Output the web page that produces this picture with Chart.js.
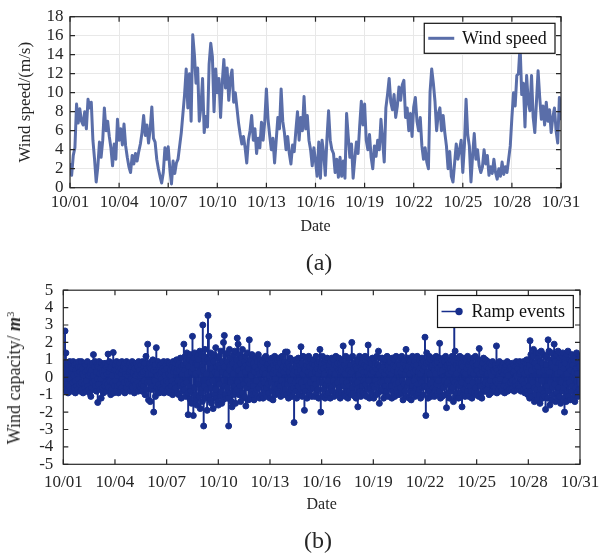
<!DOCTYPE html>
<html><head><meta charset="utf-8">
<script src="https://cdn.jsdelivr.net/npm/chart.js@4.4.0/dist/chart.umd.min.js"></script>
<style>
html,body{margin:0;padding:0;background:#fff;width:608px;height:555px;overflow:hidden;}
#wrap{position:relative;width:608px;height:555px;font-family:'Liberation Serif','Times New Roman',serif;color:#262626;}
canvas{position:absolute;left:0;}
#c1{top:0;}
#c2{top:270px;}
.lbl{position:absolute;white-space:nowrap;transform:translate(-50%,-50%);line-height:1;}
.ylab{transform:translate(-50%,-50%) rotate(-90deg);}
</style></head>
<body><div id="wrap">
<canvas id="c1" width="608" height="240"></canvas>
<canvas id="c2" width="608" height="250"></canvas>
<div class="lbl" style="left:319px;top:262px;font-size:24px">(a)</div>
<div class="lbl" style="left:318px;top:540px;font-size:24px">(b)</div>
<div class="lbl ylab" style="left:14px;top:378px;font-size:18px">Wind capacity/ <b><i>m</i></b><span style="position:relative;top:-0.55em;font-size:0.6em">3</span></div>
</div>
<script>
// ---------- data ----------
const dateTicks = ['10/01','10/04','10/07','10/10','10/13','10/16','10/19','10/22','10/25','10/28','10/31'];
const tickDays  = [0,3,6,9,12,15,18,21,24,27,30];
const windLabel = 'Wind speed';
const rampLabel = 'Ramp events';

// wind speed (m/s), sampled every 0.1 day from 10/01 to 10/31
const windSpeed = [
 2.6,1.3,3.4,4.2,8.8,6.8,8.3,7.0,6.6,8.0,
 6.2,9.3,8.4,9.0,5.0,3.0,0.6,2.2,4.8,3.2,
 5.0,8.4,6.0,7.0,5.4,4.2,2.3,4.6,3.0,7.2,
 5.0,6.2,4.5,6.7,4.4,3.2,2.2,1.6,3.4,2.5,
 3.6,2.8,3.8,4.6,5.8,7.6,5.5,6.6,4.7,6.2,
 8.5,5.2,4.8,3.0,2.0,1.2,0.5,1.6,4.2,3.0,
 4.3,2.0,0.4,2.8,1.5,2.6,3.0,4.4,5.8,7.8,
 9.8,12.5,8.4,12.0,7.0,16.1,
 14.0,11.0,12.6,7.0,8.5,11.5,5.8,7.5,6.4,13.0,
 15.2,13.8,8.0,12.5,10.0,11.5,7.4,11.0,13.5,10.5,
 12.6,9.2,11.5,12.4,9.0,10.0,8.4,6.8,5.6,4.6,
 5.4,4.2,2.6,5.0,6.0,7.6,5.0,6.2,3.6,5.2,
 4.2,6.9,5.0,7.0,10.4,7.2,5.5,4.0,5.2,2.6,
 5.0,7.4,6.2,10.4,7.0,5.8,4.0,5.4,3.6,2.5,
 4.5,3.8,6.0,8.0,5.0,7.4,6.0,9.6,6.2,7.6,
 5.0,4.0,2.3,4.2,2.8,
 1.2,4.8,1.0,5.0,3.6,1.3,5.2,8.1,5.0,4.0,
 3.6,1.6,3.0,1.1,3.2,1.2,2.8,1.0,7.8,5.4,
 3.2,4.6,1.0,3.0,4.8,3.6,6.5,9.1,6.6,8.8,
 5.0,4.0,5.6,3.2,2.0,4.4,3.3,5.0,4.0,7.2,
 5.0,2.7,8.4,9.8,11.5,9.0,8.2,9.8,7.4,8.6,
 10.6,9.2,10.8,11.3,7.4,8.4,6.0,7.8,5.4,8.5,
 9.5,7.0,6.0,7.4,4.4,3.0,4.2,2.7,2.0,10.1,
 12.5,11.0,9.1,6.0,7.8,
 8.4,6.0,7.6,5.8,4.4,2.0,3.8,1.2,0.6,2.6,
 4.6,3.0,4.0,5.0,1.6,4.5,9.3,5.6,4.4,0.6,
 3.4,5.7,3.0,4.0,2.3,1.6,2.2,4.0,2.5,3.4,
 1.3,2.2,1.5,3.0,1.6,0.9,2.0,1.2,2.7,1.4,
 2.2,1.6,3.0,4.4,7.4,10.0,8.6,11.8,12.0,15.0,
 9.8,11.0,6.4,11.8,9.0,8.1,11.8,7.4,5.8,9.0,
 12.3,9.5,7.2,8.6,6.6,9.0,7.0,8.2,5.8,7.4,
 8.4,6.0,4.7,9.5,7.1
];

// ramp events (wind capacity change), sampled every 0.025 day (one row = half a day)
const rampEvents = [
 0.3,-0.6,0.8,-0.2,2.66,0.5,1.4,-0.8,0.1,-0.4,0.7,-0.9,0.4,0.2,-0.5,0.9,-0.1,-0.7,0.6,0.3,
 -0.8,0.5,-0.3,0.9,0.1,-0.6,0.7,-0.2,-0.9,0.4,0.8,-0.5,0.2,-0.7,0.6,-0.1,0.9,-0.4,0.3,-0.8,
 0.6,-0.3,0.9,-0.7,0.2,0.5,-0.9,0.1,-0.4,0.8,-0.6,0.3,0.7,-0.2,-0.8,0.4,0.9,-0.5,0.1,-0.7,
 0.5,-0.9,0.2,0.7,-1.1,0.4,-0.6,0.8,-0.3,0.1,1.3,-0.7,0.6,-0.2,0.9,-0.5,0.3,-0.8,0.7,-0.1,
 -1.45,0.6,-0.4,0.9,0.2,-0.7,0.5,-0.1,-1.2,0.8,0.3,-0.6,0.7,-0.9,0.1,0.4,-0.5,0.8,-0.3,0.6,
 -0.8,0.2,0.7,-0.4,1.33,-0.6,0.3,0.9,-0.2,0.5,-1.0,0.6,-0.7,0.1,0.8,-0.3,1.42,-0.9,0.4,-0.5,
 0.7,-0.2,0.4,-0.8,0.9,0.1,-0.5,0.6,-0.9,0.3,0.8,-0.4,-0.7,0.5,0.2,-0.6,0.9,-0.1,0.4,-0.8,
 0.6,-0.3,0.8,-0.9,0.2,0.5,-0.6,0.9,-0.2,0.1,-0.7,0.7,-0.4,0.3,0.8,-0.8,0.4,-0.1,0.6,-0.5,
 0.9,-0.6,0.3,-0.2,0.7,-0.9,0.5,0.1,-0.4,0.8,-0.7,0.2,0.6,-0.3,-0.8,0.9,0.4,-0.5,0.1,-0.6,
 0.7,-0.4,0.2,-0.8,0.9,0.3,-0.5,0.6,-0.2,0.8,-1.0,0.4,1.2,-0.7,0.5,-0.3,1.9,0.2,-1.3,0.6,
 0.8,-0.3,-1.4,0.5,0.2,-0.7,0.9,-0.5,1.0,0.4,-2.0,0.6,-0.2,0.7,-1.1,0.3,1.7,-0.6,0.1,-0.8,
 0.9,-0.4,0.6,-0.9,0.2,0.7,-0.6,0.3,-0.1,0.8,-0.7,0.5,-0.3,0.9,-0.9,0.4,0.1,-0.5,0.7,-0.2,
 0.5,-0.8,0.9,-0.3,0.2,-0.6,0.8,-0.9,0.4,0.1,-0.5,0.7,-0.2,0.6,-1.0,0.9,0.3,-0.7,0.5,-0.4,
 0.8,-0.6,0.3,1.0,-0.9,0.5,-0.2,0.7,-1.0,0.4,0.9,-0.5,1.1,-0.3,-1.2,0.6,0.2,-0.8,0.7,-0.4,
 1.9,-0.7,0.4,1.2,-1.1,0.8,-0.3,1.4,0.2,-0.9,-2.15,0.6,1.0,-0.5,-1.25,1.3,-0.8,0.3,-1.5,0.9,
 2.35,0.5,-2.2,1.1,-0.6,1.4,-1.0,0.2,0.8,-1.3,-1.6,0.7,1.2,-0.4,1.0,-1.1,0.3,1.5,-1.8,-0.7,
 1.3,-0.9,0.6,-1.4,3.0,0.4,-2.8,1.2,-0.5,1.6,-1.2,0.9,0.2,-0.7,-1.9,1.0,3.55,-1.1,2.35,-0.3,
 0.8,-1.3,1.4,-0.6,-1.5,0.5,1.1,-0.2,-1.8,0.9,1.3,-1.0,0.3,-0.7,1.7,-1.2,0.6,0.2,-1.4,1.1,
 -1.6,0.7,1.2,-0.4,0.5,-1.1,1.5,-0.8,-1.5,0.3,0.9,-1.3,2.0,0.6,2.4,-0.5,-1.0,1.3,0.2,-1.2,
 0.9,-0.6,1.4,-1.2,-2.8,0.4,1.6,-0.9,0.7,-0.3,1.1,-1.4,-1.7,0.8,0.2,-1.0,1.3,-0.5,1.5,-0.8,
 -1.5,0.6,1.0,-0.7,2.25,-0.3,1.9,0.4,-1.0,1.3,-0.5,0.8,-1.4,0.2,1.1,-0.9,1.6,-1.2,0.5,-0.4,
 0.9,-1.1,0.3,1.2,-1.65,0.7,-0.6,1.4,-0.2,0.5,-1.3,0.8,2.15,-0.4,-1.2,1.0,0.1,-0.8,1.3,-1.0,
 1.2,-0.5,0.8,-1.3,0.3,0.6,-0.9,1.1,-0.2,-0.7,0.9,-1.1,0.4,1.3,-0.6,0.2,-1.2,0.7,1.0,-0.4,
 0.6,-1.0,0.3,0.9,-1.2,0.5,-0.3,1.1,-0.8,0.2,1.2,-0.6,-1.1,0.7,1.9,-0.4,0.8,-0.9,0.1,1.0,
 -1.2,0.5,0.9,-0.3,1.1,-0.8,0.2,-1.3,0.7,0.4,-0.6,1.2,-0.1,-1.0,0.8,0.3,-0.7,1.0,-0.4,0.6,
 -0.9,1.1,0.2,-0.5,0.8,-1.1,0.4,-0.2,1.2,-0.8,0.6,-1.0,0.3,0.9,-0.4,-0.7,1.45,0.5,-1.0,0.7,
 1.45,-0.4,0.8,-1.2,0.3,0.6,-0.9,1.1,-0.2,-0.7,1.0,-1.1,0.5,0.2,-0.6,0.9,-2.6,0.4,-0.3,1.0,
 -0.8,0.6,-1.2,0.3,0.9,-0.5,1.1,-0.2,-1.0,0.7,0.4,-0.7,1.75,-0.3,0.8,-1.1,0.2,1.2,-0.6,0.5,
 -1.9,0.4,-0.8,1.1,-0.2,0.7,-1.2,0.9,0.3,-0.5,1.2,-1.0,0.6,-0.3,1.0,-0.7,0.2,-1.1,0.8,0.5,
 -0.6,1.0,-0.1,0.7,-1.1,0.3,-0.4,1.2,-0.9,0.5,0.8,-0.7,0.2,-1.2,0.9,-0.3,1.6,0.4,-2.0,0.6,
 0.8,-0.3,1.2,-1.1,0.5,-0.7,0.2,0.9,-1.2,1.0,-0.4,0.6,-1.0,1.1,-0.2,0.4,-0.9,0.7,-0.5,0.3,
 -1.2,0.9,-0.6,0.3,1.1,-0.8,0.5,-0.2,1.0,-1.1,0.7,0.2,-0.4,1.2,-0.9,0.6,-0.3,0.8,-1.0,0.4,
 1.1,-0.6,0.3,-1.2,0.8,0.4,-0.9,1.0,-0.2,0.6,1.8,-0.5,-1.0,0.7,0.2,-1.1,1.2,-0.3,0.5,-0.8,
 0.9,-1.2,0.4,-0.5,1.1,-0.8,0.2,0.7,-1.0,0.3,2.0,-0.6,1.2,-0.9,0.5,-0.2,0.8,-1.1,0.6,-0.4,
 -1.2,0.5,1.0,-0.3,-1.7,0.9,-0.6,0.2,1.2,-0.8,0.6,-1.1,0.4,0.8,-0.5,1.1,-0.9,0.3,-0.2,0.7,
 -1.0,1.2,-0.4,0.6,-1.1,0.3,0.9,-0.7,1.85,-0.2,0.5,-1.2,1.0,-0.6,0.2,0.8,-0.9,0.4,1.1,-0.5,
 0.3,-1.2,1.0,-0.6,0.8,-0.2,0.5,-1.0,1.2,-0.4,0.7,-0.9,1.5,0.2,-1.5,0.6,-0.3,1.1,-0.8,0.4,
 -0.7,1.1,-0.3,0.6,-1.2,0.9,0.2,-0.5,1.0,-1.0,0.4,-0.8,1.2,-0.2,0.7,-1.1,0.3,0.9,-0.6,0.5,
 0.9,-0.5,0.2,-1.2,1.1,-0.8,0.4,0.7,-0.2,1.0,-1.1,0.6,-0.4,1.2,-0.7,0.3,-0.9,0.8,-0.3,0.5,
 -1.0,0.7,1.1,-0.6,0.3,-0.9,1.2,-0.2,0.5,-1.3,0.8,-0.4,1.0,-0.8,0.2,0.6,1.6,-1.1,0.4,-0.5,
 1.1,-0.3,0.6,-1.2,0.2,0.9,-0.8,1.0,-1.3,0.5,-0.5,1.2,-0.9,0.3,0.7,-0.2,0.9,-1.1,0.4,-0.6,
 0.7,-1.0,1.2,-0.4,0.3,-0.9,1.0,-0.7,0.5,0.2,-1.2,0.8,-0.3,1.1,-0.6,0.4,-1.0,0.9,-0.5,0.6,
 2.3,-0.5,-2.2,0.8,1.4,-0.6,0.3,-1.2,0.9,-0.8,1.2,0.2,-0.4,1.0,-1.1,0.6,-0.3,0.7,-1.0,1.1,
 -0.6,0.4,-1.1,0.8,0.2,-0.7,1.2,-0.4,0.9,-1.0,0.5,-0.2,1.1,-0.8,1.95,0.3,-1.2,0.7,-0.5,1.0,
 -1.1,0.4,-0.6,1.1,-0.2,0.9,-1.0,0.6,1.2,-0.4,-1.75,0.7,-0.3,1.0,-0.9,0.2,0.8,-1.2,0.5,-0.5,
 1.0,-0.8,0.3,1.2,-0.6,0.5,-1.4,0.9,3.3,-0.3,1.5,-1.1,0.7,0.2,-0.9,1.1,-0.4,0.6,-1.2,0.8,
 -0.5,1.2,-0.9,0.4,0.8,-0.3,-1.7,0.6,1.1,-1.0,0.3,-0.7,0.9,-1.1,0.2,1.0,-0.4,0.5,-0.8,1.2,
 -0.2,0.7,-1.1,0.9,-0.5,0.3,1.0,-0.8,0.5,-1.2,0.8,-0.3,1.1,0.2,-0.9,0.6,-0.6,1.2,-1.0,0.4,
 0.7,-0.9,0.4,-0.3,1.0,-1.1,1.65,0.2,-0.5,0.9,-1.0,0.6,-1.2,0.3,0.8,-0.7,1.1,-0.4,0.5,-0.8,
 -0.3,1.0,-0.8,0.6,0.2,-0.7,0.9,-0.4,0.5,-1.0,0.8,-0.2,0.3,-0.9,0.7,0.1,-0.6,0.9,-0.5,0.4,
 -0.6,0.3,-0.8,0.7,-0.2,0.5,1.8,-0.9,0.4,-0.4,0.8,-0.7,0.2,0.9,-0.5,-0.1,0.6,-0.8,0.3,0.7,
 -0.7,0.2,0.8,-0.5,0.4,-0.9,0.6,-0.2,0.7,-0.6,0.3,0.9,-0.8,0.1,-0.4,0.8,-0.7,0.5,-0.3,0.6,
 -0.7,0.5,-0.2,0.8,-0.6,0.3,0.7,-0.8,0.4,-0.3,0.6,-0.5,0.9,0.1,-0.7,0.5,-0.4,0.8,-0.6,0.2,
 0.9,-0.5,0.3,-0.8,0.7,-0.2,0.6,0.4,-0.7,0.9,-0.4,0.2,-0.9,0.8,-0.6,0.5,1.0,-0.8,0.3,-1.0,
 1.0,-0.5,0.7,-1.2,2.1,-0.8,1.3,0.4,-1.1,0.9,-0.3,1.2,1.6,-0.6,-1.4,0.8,-1.0,0.5,1.4,-0.7,
 -1.3,0.6,1.1,-0.4,1.4,-1.0,0.3,-1.5,0.9,-0.7,1.5,-0.2,0.8,-1.2,0.5,1.3,-0.9,0.4,-1.1,1.2,
 -1.85,0.7,1.2,-0.5,0.4,-1.2,2.15,-0.8,1.5,0.3,-1.6,1.0,-0.3,0.8,-1.3,1.4,-0.6,0.6,-1.0,1.1,
 1.9,-0.4,0.9,-1.4,0.5,1.3,-0.9,0.2,-1.2,1.5,-0.6,0.8,-1.1,1.1,0.3,-1.5,0.7,-0.3,1.2,-0.8,
 1.4,-0.6,0.5,-1.2,-2.0,0.8,1.1,-0.4,-1.4,1.3,0.2,-0.9,1.5,-1.1,0.6,-0.3,1.0,-1.3,0.4,0.9,
 -0.8,1.3,-0.5,0.7,-1.2,1.0,0.3,-1.0,-1.4,1.2,-0.6,0.5,1.4,-0.9,0.2,-1.1,0.8,1.2,-0.7,0.6,
 1.2
];

// ---------- styles ----------
const FONT = "'Liberation Serif','Times New Roman',serif";
const INK = '#262626';
const LINE_BLUE = '#5a6ea9';
const STEM_BLUE = '#172e8c';
const DAYS = 30;

const windStep = DAYS / (windSpeed.length - 1);
const rampStep = DAYS / (rampEvents.length - 1);
const windPts = windSpeed.map((v, i) => ({x: i * windStep, y: v}));
const rampPts = rampEvents.map((v, i) => ({x: i * rampStep, y: v}));

const dateCallback = v => { const k = tickDays.indexOf(Math.round(v)); return k >= 0 ? dateTicks[k] : ''; };

// frame with inward ticks + legend box inside the plot (MATLAB style)
const framePlugin = {
  id: 'frame',
  afterDraw(chart) {
    const o = chart.options.plugins.frame;
    const {ctx, chartArea: a, scales: {x, y}} = chart;
    ctx.save();
    ctx.strokeStyle = INK; ctx.lineWidth = 1.2;
    ctx.strokeRect(a.left, a.top, a.right - a.left, a.bottom - a.top);
    const L = 5;
    ctx.beginPath();
    x.ticks.forEach(t => { const px = x.getPixelForValue(t.value);
      ctx.moveTo(px, a.bottom); ctx.lineTo(px, a.bottom - L);
      ctx.moveTo(px, a.top); ctx.lineTo(px, a.top + L); });
    y.ticks.forEach(t => { const py = y.getPixelForValue(t.value);
      ctx.moveTo(a.left, py); ctx.lineTo(a.left + L, py);
      ctx.moveTo(a.right, py); ctx.lineTo(a.right - L, py); });
    ctx.stroke();
    // legend
    ctx.font = o.fontSize + 'px ' + FONT;
    const tw = ctx.measureText(o.label).width;
    const w = o.textOff + tw + 8.3, h = o.boxH;
    const bx = a.right - o.rightGap - w, by = a.top + o.topGap;
    ctx.fillStyle = '#fff';
    ctx.fillRect(bx, by, w, h);
    ctx.strokeStyle = '#111'; ctx.lineWidth = 1.2;
    ctx.strokeRect(bx, by, w, h);
    const cy = by + h / 2;
    ctx.strokeStyle = o.color; ctx.lineWidth = o.lw;
    ctx.beginPath(); ctx.moveTo(bx + 4, cy); ctx.lineTo(bx + o.lineEnd, cy); ctx.stroke();
    if (o.marker) {
      ctx.fillStyle = o.color;
      ctx.beginPath(); ctx.arc(bx + o.lineEnd - 2.5, cy, 3.7, 0, Math.PI * 2); ctx.fill();
    }
    ctx.fillStyle = '#111'; ctx.textBaseline = 'middle'; ctx.textAlign = 'left';
    ctx.fillText(o.label, bx + o.textOff, cy + 1);
    ctx.restore();
  }
};

const tickFont = {family: FONT, size: 17};

// ---------- (a) wind speed ----------
new Chart(document.getElementById('c1'), {
  type: 'line',
  data: {datasets: [{label: windLabel, data: windPts, borderColor: LINE_BLUE, borderWidth: 3,
    pointRadius: 0, tension: 0, fill: false, borderJoinStyle: 'round'}]},
  options: {
    responsive: false, animation: false, devicePixelRatio: 1,
    layout: {padding: {left: 0, right: 47, top: 11.7, bottom: 0}},
    plugins: {legend: {display: false}, tooltip: {enabled: false},
      frame: {label: windLabel, color: LINE_BLUE, lw: 3, marker: false, fontSize: 18,
        textOff: 37.7, lineEnd: 30, boxH: 30, rightGap: 6, topGap: 6.6}},
    scales: {
      x: {type: 'linear', min: 0, max: DAYS,
        afterFit(s) { s.height = 52.3; },
        ticks: {stepSize: 3, autoSkip: false, maxRotation: 0, padding: 5, color: INK, font: tickFont, callback: dateCallback},
        grid: {color: '#e8e8e8', lineWidth: 1, drawTicks: false}, border: {display: false},
        title: {display: true, text: 'Date', color: INK, font: {family: FONT, size: 16}, padding: {top: 0, bottom: 4}}},
      y: {min: 0, max: 18,
        afterFit(s) { s.width = 70; },
        ticks: {stepSize: 2, autoSkip: false, padding: 6.5, color: INK, font: tickFont},
        grid: {color: '#e8e8e8', lineWidth: 1, drawTicks: false}, border: {display: false},
        title: {display: true, text: 'Wind speed/(m/s)', color: INK, font: {family: FONT, size: 17}, padding: {top: 15.5, bottom: 0}}}
    }
  },
  plugins: [framePlugin]
});

// ---------- (b) ramp events ----------
new Chart(document.getElementById('c2'), {
  type: 'bar',
  data: {datasets: [
    {type: 'bar', label: rampLabel, data: rampPts, backgroundColor: STEM_BLUE, barThickness: 1.3, grouped: false, order: 2},
    {type: 'scatter', label: rampLabel, data: rampPts, pointRadius: 3, pointBorderWidth: 1,
      pointBackgroundColor: STEM_BLUE, pointBorderColor: STEM_BLUE, showLine: false, order: 1}
  ]},
  options: {
    responsive: false, animation: false, devicePixelRatio: 1,
    layout: {padding: {left: 0, right: 28, top: 14, bottom: 0}},
    plugins: {legend: {display: false}, tooltip: {enabled: false},
      frame: {label: rampLabel, color: STEM_BLUE, lw: 1.5, marker: true, fontSize: 18,
        textOff: 34, lineEnd: 24, boxH: 32, rightGap: 6.7, topGap: 5.3}},
    scales: {
      x: {type: 'linear', min: 0, max: DAYS, offset: false,
        afterFit(s) { s.height = 55.7; },
        ticks: {stepSize: 3, autoSkip: false, maxRotation: 0, padding: 8, color: INK, font: tickFont, callback: dateCallback},
        grid: {display: false, offset: false, drawTicks: false}, border: {display: false},
        title: {display: true, text: 'Date', color: INK, font: {family: FONT, size: 16}, padding: {top: 0, bottom: 5.4}}},
      y: {min: -5, max: 5,
        afterFit(s) { s.width = 63.3; },
        ticks: {stepSize: 1, autoSkip: false, padding: 10, color: INK, font: tickFont},
        grid: {display: false, drawTicks: false}, border: {display: false}}
    }
  },
  plugins: [framePlugin]
});
</script>
</body></html>
